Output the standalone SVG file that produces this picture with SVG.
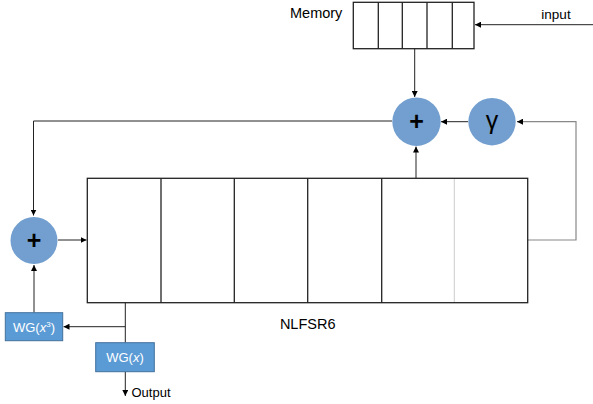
<svg xmlns="http://www.w3.org/2000/svg" width="593" height="404" viewBox="0 0 593 404">
  <defs>
    <marker id="arr" viewBox="0 0 6 6" refX="6" refY="3" markerWidth="6" markerHeight="6" markerUnits="userSpaceOnUse" orient="auto">
      <path d="M0,0 L6,3 L0,6 z" fill="#000"/>
    </marker>
  </defs>
  <style>
    text { font-family: "Liberation Sans", Arial, sans-serif; fill: #000; }
    .reg { fill: #fff; stroke: #222; stroke-width: 1.3; }
    .div { stroke: #222; stroke-width: 1.3; }
    .wire { fill: none; stroke: #222; stroke-width: 1; }
    .grey { fill: none; stroke: #888; stroke-width: 1.2; }
    .op { fill: #729fcf; }
    .wg { fill: #5b9bd5; stroke: #41719c; stroke-width: 1; }
    .wgt { fill: #fff; font-size: 13px; text-anchor: middle; }
    .sym { font-size: 25px; text-anchor: middle; }
    .plus { font-weight: bold; }
  </style>

  <!-- connectors -->
  <g id="connectors">
    <path class="wire" d="M593,24.7 H475" marker-end="url(#arr)"/>
    <path class="wire" d="M414.7,48.7 V97" marker-end="url(#arr)"/>
    <path class="wire" d="M468,121.7 H441" marker-end="url(#arr)"/>
    <path class="grey" d="M528,240 H576 V121.7 H522"/>
    <path class="wire" d="M522,121.7 H517" marker-end="url(#arr)"/>
    <path class="wire" d="M416,178 V146.5" marker-end="url(#arr)"/>
    <path class="wire" d="M392,121 H33.5 V215.5" marker-end="url(#arr)"/>
    <path class="wire" d="M58,240 H86.5" marker-end="url(#arr)"/>
    <path class="wire" d="M34,312.7 V265" marker-end="url(#arr)"/>
    <path class="wire" d="M125.3,302.7 V342.7"/>
    <path class="wire" d="M125.3,326.7 H63.5" marker-end="url(#arr)"/>
    <path class="wire" d="M125.3,371.7 V396" marker-end="url(#arr)"/>
  </g>

  <!-- memory buffer -->
  <g id="memory">
    <rect class="reg" x="353.3" y="2.3" width="120.7" height="46.4"/>
    <line class="div" x1="378.3" y1="2.3" x2="378.3" y2="48.7"/>
    <line class="div" x1="402.3" y1="2.3" x2="402.3" y2="48.7"/>
    <line class="div" x1="427" y1="2.3" x2="427" y2="48.7"/>
    <line class="div" x1="452.3" y1="2.3" x2="452.3" y2="48.7"/>
    <text x="290" y="18" font-size="14.5">Memory</text>
  </g>

  <g id="input-label">
    <text x="556" y="18.5" font-size="13.5" text-anchor="middle">input</text>
  </g>

  <!-- adders and gamma -->
  <g id="add-top">
    <circle class="op" cx="416.5" cy="121.7" r="24.2"/>
    <text class="sym plus" x="416.5" y="130">+</text>
  </g>
  <g id="gamma">
    <circle class="op" cx="492" cy="121.7" r="23.7"/>
    <text class="sym" x="492" y="128.5">γ</text>
  </g>
  <g id="add-left">
    <circle class="op" cx="34" cy="240.5" r="23.5"/>
    <text class="sym plus" x="34" y="249">+</text>
  </g>

  <!-- NLFSR register -->
  <g id="nlfsr6">
    <rect class="reg" x="87.3" y="178.3" width="440.4" height="124.4"/>
    <line class="div" x1="161" y1="178.3" x2="161" y2="302.7"/>
    <line class="div" x1="234.3" y1="178.3" x2="234.3" y2="302.7"/>
    <line class="div" x1="307.7" y1="178.3" x2="307.7" y2="302.7"/>
    <line class="div" x1="381.7" y1="178.3" x2="381.7" y2="302.7"/>
    <line x1="454.3" y1="179" x2="454.3" y2="302" stroke="#ccc" stroke-width="1"/>
    <text x="307.7" y="329" font-size="14.5" text-anchor="middle">NLFSR6</text>
  </g>

  <!-- filter functions -->
  <g id="wg-x3">
    <rect class="wg" x="5.3" y="312.7" width="57.4" height="28"/>
    <text class="wgt" x="34" y="331.5">WG(<tspan font-style="italic">x</tspan><tspan font-size="8" dy="-5">3</tspan><tspan dy="5">)</tspan></text>
  </g>
  <g id="wg-x">
    <rect class="wg" x="95.7" y="342.7" width="58.6" height="29"/>
    <text class="wgt" x="125" y="362">WG(<tspan font-style="italic">x</tspan>)</text>
  </g>

  <g id="output-label">
    <text x="131.5" y="397" font-size="13">Output</text>
  </g>
</svg>
